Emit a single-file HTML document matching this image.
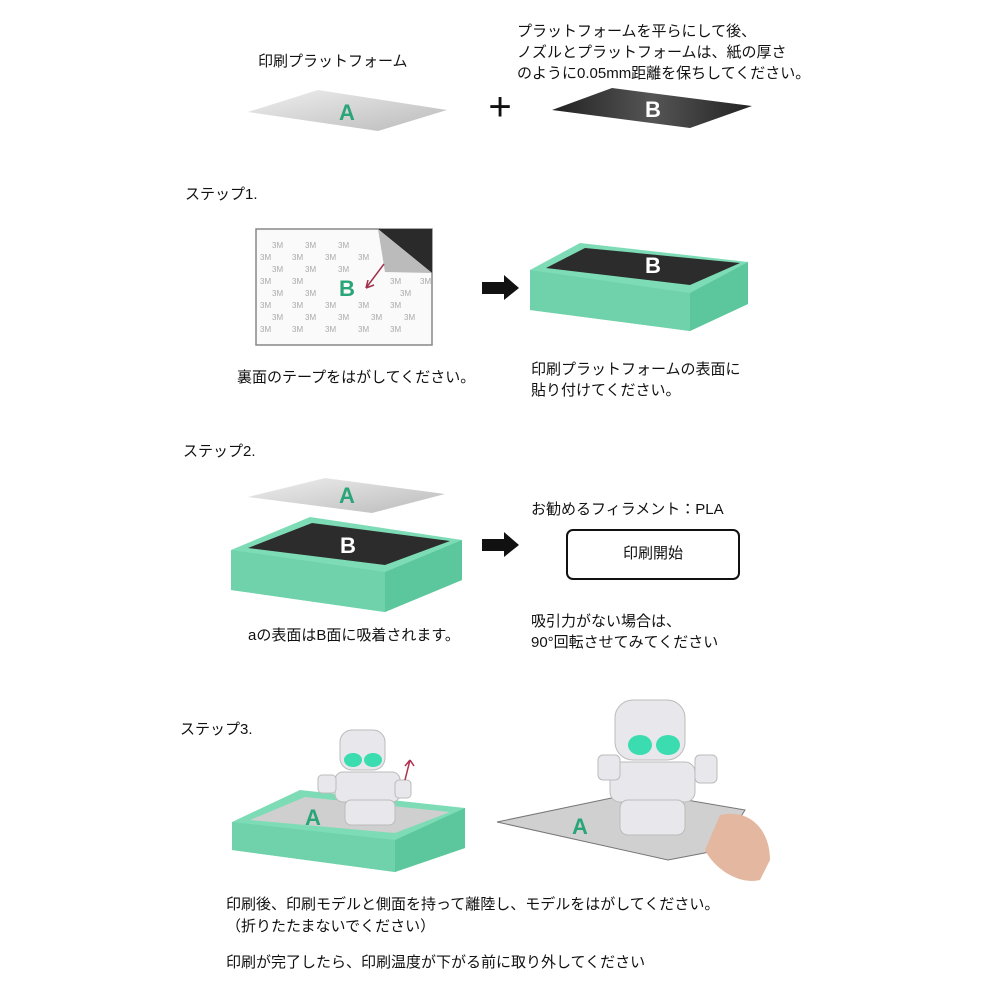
<!DOCTYPE html>
<html><head><meta charset="utf-8"><style>
body{margin:0;background:#fff;}
.t{position:absolute;font-family:"Liberation Sans","Noto Sans CJK JP",sans-serif;font-size:15px;color:#111;white-space:nowrap;line-height:21px}
</style></head><body>
<div style="position:relative;width:1000px;height:1000px;overflow:hidden">
<svg width="1000" height="1000" style="position:absolute;left:0;top:0">
<defs>
<linearGradient id="gA" x1="0" y1="0" x2="1" y2="1"><stop offset="0" stop-color="#eee"/><stop offset="1" stop-color="#bbb"/></linearGradient>
<linearGradient id="gB" x1="0" y1="0" x2="1" y2="0"><stop offset="0" stop-color="#222"/><stop offset=".5" stop-color="#555"/><stop offset="1" stop-color="#222"/></linearGradient>
</defs>
<polygon points="248,112 318,90 447,110 378,131" fill="url(#gA)"/>
<text x="347" y="120" font-family="Liberation Sans" font-weight="bold" font-size="22" fill="#2aa57a" text-anchor="middle">A</text>
<text x="500" y="120" font-family="Liberation Sans" font-size="40" fill="#111" text-anchor="middle">+</text>
<polygon points="552,110 612,88 752,106 690,128" fill="url(#gB)"/>
<text x="653" y="117" font-family="Liberation Sans" font-weight="bold" font-size="22" fill="#fff" text-anchor="middle">B</text>
<rect x="256" y="229" width="176" height="116" fill="#fafafa" stroke="#888" stroke-width="1.5"/>
<g font-family="Liberation Sans" font-size="8" fill="#aaa">
<text x="272" y="248">3M</text><text x="305" y="248">3M</text><text x="338" y="248">3M</text>
<text x="260" y="260">3M</text><text x="292" y="260">3M</text><text x="325" y="260">3M</text><text x="358" y="260">3M</text>
<text x="272" y="272">3M</text><text x="305" y="272">3M</text><text x="338" y="272">3M</text>
<text x="260" y="284">3M</text><text x="292" y="284">3M</text><text x="390" y="284">3M</text><text x="420" y="284">3M</text>
<text x="272" y="296">3M</text><text x="305" y="296">3M</text><text x="400" y="296">3M</text>
<text x="260" y="308">3M</text><text x="292" y="308">3M</text><text x="325" y="308">3M</text><text x="358" y="308">3M</text><text x="390" y="308">3M</text>
<text x="272" y="320">3M</text><text x="305" y="320">3M</text><text x="338" y="320">3M</text><text x="371" y="320">3M</text><text x="404" y="320">3M</text>
<text x="260" y="332">3M</text><text x="292" y="332">3M</text><text x="325" y="332">3M</text><text x="358" y="332">3M</text><text x="390" y="332">3M</text>
</g>
<polygon points="378,229 432,229 432,273" fill="#2a2a2a"/>
<polygon points="378,229 432,273 385,272" fill="#bbb"/>
<text x="347" y="296" font-family="Liberation Sans" font-weight="bold" font-size="22" fill="#2aa57a" text-anchor="middle">B</text>
<path d="M384,264 L366,288 M366,288 l2,-8 M366,288 l8,-3" stroke="#a0304a" stroke-width="1.5" fill="none"/>
<polygon points="482,282 504,282 504,275 519,288 504,300 504,294 482,294" fill="#111"/>
<polygon points="482,539 504,539 504,532 519,545 504,557 504,551 482,551" fill="#111"/>
<polygon points="530,270 580,243 748,262 748,304 690,331 530,310" fill="#7ddcb6"/>
<polygon points="530,270 690,293 690,331 530,310" fill="#6fd2aa"/>
<polygon points="690,293 748,262 748,304 690,331" fill="#5cc79c"/>
<polygon points="546,268 585,248 740,263 690,285" fill="#2c2c2c"/>
<text x="653" y="273" font-family="Liberation Sans" font-weight="bold" font-size="22" fill="#fff" text-anchor="middle">B</text>
<polygon points="248,497 325,478 445,494 372,513" fill="url(#gA)"/>
<text x="347" y="503" font-family="Liberation Sans" font-weight="bold" font-size="22" fill="#2aa57a" text-anchor="middle">A</text>
<polygon points="231,550 310,517 462,540 462,580 385,612 231,590" fill="#7ddcb6"/>
<polygon points="231,550 385,572 385,612 231,590" fill="#6fd2aa"/>
<polygon points="385,572 462,540 462,580 385,612" fill="#5cc79c"/>
<polygon points="248,548 312,523 450,541 385,565" fill="#2c2c2c"/>
<text x="348" y="553" font-family="Liberation Sans" font-weight="bold" font-size="22" fill="#fff" text-anchor="middle">B</text>
<rect x="567" y="530" width="172" height="49" rx="6" fill="#fff" stroke="#111" stroke-width="2"/>
<polygon points="232,822 300,790 465,808 465,848 395,872 232,850" fill="#7ddcb6"/>
<polygon points="232,822 395,840 395,872 232,850" fill="#6fd2aa"/>
<polygon points="395,840 465,808 465,848 395,872" fill="#5cc79c"/>
<polygon points="250,820 305,797 450,812 395,833" fill="#cfcfcf"/>
<text x="313" y="825" font-family="Liberation Sans" font-weight="bold" font-size="22" fill="#2aa57a" text-anchor="middle">A</text>
<g fill="#e8e8ec" stroke="#bbb">
<rect x="340" y="730" width="45" height="40" rx="12"/>
<rect x="335" y="772" width="65" height="30" rx="8"/>
<rect x="345" y="800" width="50" height="25" rx="6"/>
<rect x="318" y="775" width="18" height="18" rx="4"/>
<rect x="395" y="780" width="16" height="18" rx="4"/>
</g>
<ellipse cx="353" cy="760" rx="9" ry="7" fill="#3bdcb0"/><ellipse cx="373" cy="760" rx="9" ry="7" fill="#3bdcb0"/>
<path d="M405,780 L410,760 M410,760 l-5,6 M410,760 l4,6" stroke="#b03050" stroke-width="1.5" fill="none"/>
<polygon points="497,822 640,792 745,810 720,850 668,860" fill="#d0d0d0" stroke="#777"/>
<text x="580" y="834" font-family="Liberation Sans" font-weight="bold" font-size="22" fill="#2aa57a" text-anchor="middle">A</text>
<g fill="#e8e8ec" stroke="#bbb">
<rect x="615" y="700" width="70" height="60" rx="18"/>
<rect x="610" y="762" width="85" height="40" rx="10"/>
<rect x="620" y="800" width="65" height="35" rx="8"/>
<rect x="598" y="755" width="22" height="25" rx="5"/>
<rect x="695" y="755" width="22" height="28" rx="5"/>
</g>
<ellipse cx="640" cy="745" rx="12" ry="10" fill="#3bdcb0"/><ellipse cx="668" cy="745" rx="12" ry="10" fill="#3bdcb0"/>
<path d="M720,815 C750,808 770,830 770,860 L760,880 C740,885 715,870 705,850 Z" fill="#e4b8a0"/>
</svg>
<div class="t" style="left:258px;top:51px">印刷プラットフォーム</div>
<div class="t" style="left:517px;top:21px">プラットフォームを平らにして後、</div>
<div class="t" style="left:517px;top:42px">ノズルとプラットフォームは、紙の厚さ</div>
<div class="t" style="left:517px;top:63px">のように0.05mm距離を保ちしてください。</div>
<div class="t" style="left:185px;top:184px">ステップ1.</div>
<div class="t" style="left:237px;top:367px">裏面のテープをはがしてください。</div>
<div class="t" style="left:531px;top:359px">印刷プラットフォームの表面に</div>
<div class="t" style="left:531px;top:380px">貼り付けてください。</div>
<div class="t" style="left:183px;top:441px">ステップ2.</div>
<div class="t" style="left:531px;top:499px">お勧めるフィラメント：PLA</div>
<div class="t" style="left:567px;top:543px;width:172px;text-align:center">印刷開始</div>
<div class="t" style="left:248px;top:625px">aの表面はB面に吸着されます。</div>
<div class="t" style="left:531px;top:611px">吸引力がない場合は、</div>
<div class="t" style="left:531px;top:632px">90°回転させてみてください</div>
<div class="t" style="left:180px;top:719px">ステップ3.</div>
<div class="t" style="left:226px;top:894px">印刷後、印刷モデルと側面を持って離陸し、モデルをはがしてください。</div>
<div class="t" style="left:226px;top:916px">（折りたたまないでください）</div>
<div class="t" style="left:226px;top:952px">印刷が完了したら、印刷温度が下がる前に取り外してください</div>
</div>
</body></html>
